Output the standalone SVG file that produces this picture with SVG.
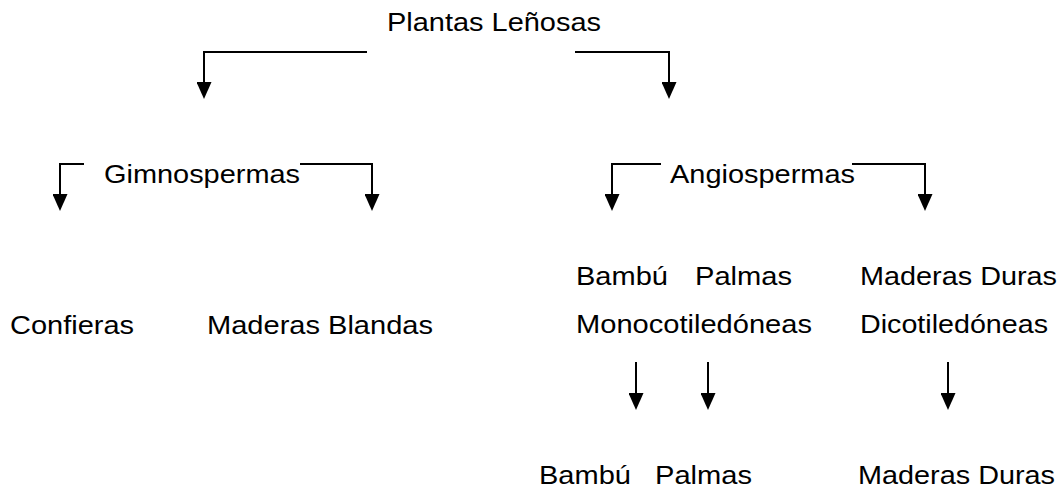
<svg xmlns="http://www.w3.org/2000/svg" width="1062" height="492" viewBox="0 0 1062 492">
<style>
text{font-family:"Liberation Sans",Arial,sans-serif;font-size:26px;fill:#000}
.c{fill:none;stroke:#000;stroke-width:2}
</style>
<defs>
<marker id="ah" markerUnits="userSpaceOnUse" markerWidth="17" markerHeight="15" viewBox="0 0 17 15" refX="1" refY="7.5" orient="auto">
<path d="M0,0 L17,7.5 L0,15 z" fill="#000"/>
</marker>
</defs>
<g id="connectors">
<path class="c" d="M367,52 H204 V83" marker-end="url(#ah)"/>
<path class="c" d="M575,52 H669 V83" marker-end="url(#ah)"/>
<path class="c" d="M84,164 H60 V195" marker-end="url(#ah)"/>
<path class="c" d="M300,164 H372 V195" marker-end="url(#ah)"/>
<path class="c" d="M661,164 H612 V195" marker-end="url(#ah)"/>
<path class="c" d="M852,164 H925 V195" marker-end="url(#ah)"/>
<path class="c" d="M636,362 V394" marker-end="url(#ah)"/>
<path class="c" d="M708,362 V394" marker-end="url(#ah)"/>
<path class="c" d="M948,362 V394" marker-end="url(#ah)"/>
</g>
<g id="plantas"><text x="387" y="31" textLength="214" lengthAdjust="spacingAndGlyphs">Plantas Leñosas</text></g>
<g id="gimnospermas"><text x="104" y="183" textLength="196" lengthAdjust="spacingAndGlyphs">Gimnospermas</text></g>
<g id="angiospermas"><text x="670" y="183" textLength="185" lengthAdjust="spacingAndGlyphs">Angiospermas</text></g>
<g id="confieras"><text x="10" y="334" textLength="124" lengthAdjust="spacingAndGlyphs">Confieras</text></g>
<g id="maderas-blandas"><text x="207" y="334" textLength="226" lengthAdjust="spacingAndGlyphs">Maderas Blandas</text></g>
<g id="bambu-top"><text x="576" y="285" textLength="92" lengthAdjust="spacingAndGlyphs">Bambú</text></g>
<g id="palmas-top"><text x="695" y="285" textLength="97" lengthAdjust="spacingAndGlyphs">Palmas</text></g>
<g id="maderas-duras-top"><text x="860" y="285" textLength="197" lengthAdjust="spacingAndGlyphs">Maderas Duras</text></g>
<g id="monocotiledoneas"><text x="576" y="333" textLength="236" lengthAdjust="spacingAndGlyphs">Monocotiledóneas</text></g>
<g id="dicotiledoneas"><text x="860" y="333" textLength="188" lengthAdjust="spacingAndGlyphs">Dicotiledóneas</text></g>
<g id="bambu"><text x="539" y="484" textLength="92" lengthAdjust="spacingAndGlyphs">Bambú</text></g>
<g id="palmas"><text x="655" y="484" textLength="97" lengthAdjust="spacingAndGlyphs">Palmas</text></g>
<g id="maderas-duras"><text x="858" y="484" textLength="197" lengthAdjust="spacingAndGlyphs">Maderas Duras</text></g>
</svg>
